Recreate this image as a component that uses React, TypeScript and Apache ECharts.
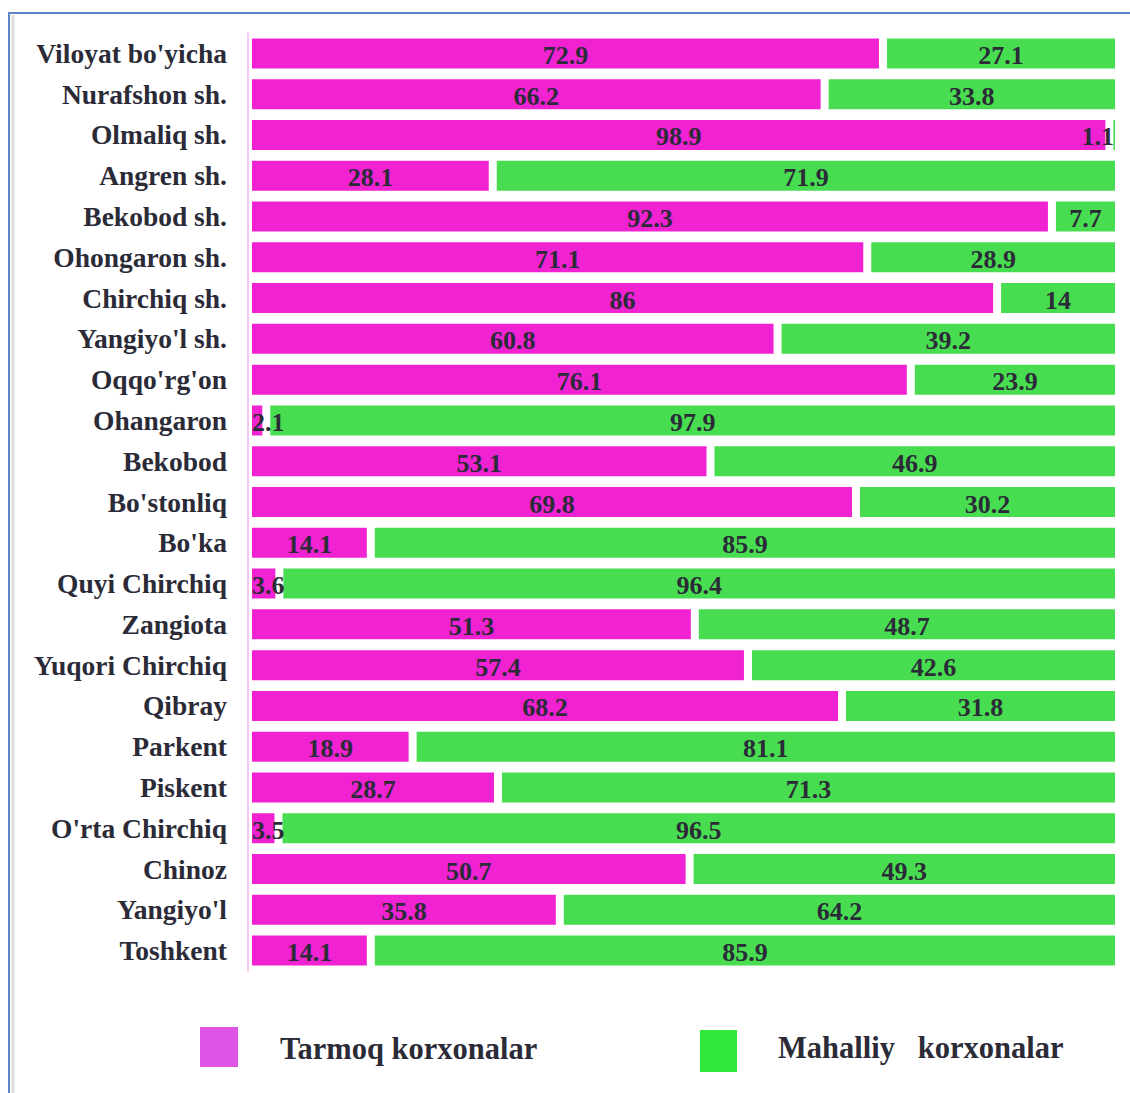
import React, { useEffect, useRef } from "react";
import * as echarts from "echarts";

const categories = [
  "Viloyat bo'yicha", "Nurafshon sh.", "Olmaliq sh.", "Angren sh.", "Bekobod sh.",
  "Ohongaron sh.", "Chirchiq sh.", "Yangiyo'l sh.", "Oqqo'rg'on", "Ohangaron",
  "Bekobod", "Bo'stonliq", "Bo'ka", "Quyi Chirchiq", "Zangiota", "Yuqori Chirchiq",
  "Qibray", "Parkent", "Piskent", "O'rta Chirchiq", "Chinoz", "Yangiyo'l", "Toshkent",
];
const tarmoq = [72.9, 66.2, 98.9, 28.1, 92.3, 71.1, 86, 60.8, 76.1, 2.1, 53.1, 69.8, 14.1, 3.6, 51.3, 57.4, 68.2, 18.9, 28.7, 3.5, 50.7, 35.8, 14.1];
const mahalliy = [27.1, 33.8, 1.1, 71.9, 7.7, 28.9, 14, 39.2, 23.9, 97.9, 46.9, 30.2, 85.9, 96.4, 48.7, 42.6, 31.8, 81.1, 71.3, 96.5, 49.3, 64.2, 85.9];
const seriesNames = ["Tarmoq korxonalar", "Mahalliy   korxonalar"];

const FONT = "'Liberation Serif', 'Times New Roman', serif";
const TEXT = "#2b2b38";

export default function App() {
  const ref = useRef<HTMLDivElement>(null);
  useEffect(() => {
    if (!ref.current) return;
    const chart = echarts.init(ref.current, null, { renderer: "svg" });
    const labelBase = {
      show: true,
      position: "inside",
      fontFamily: FONT,
      fontWeight: "bold",
      fontSize: 26,
      color: TEXT,
      offset: [0, 2],
    };
    const tData = tarmoq.map((v) =>
      v < 5 ? { value: v, label: { position: "insideLeft", distance: 0, offset: [4, 2] } } : v
    );
    const mData = mahalliy.map((v) =>
      v < 5 ? { value: v, label: { position: "insideRight", distance: 2, offset: [-3, 2] } } : v
    );
    chart.setOption({
      animation: false,
      backgroundColor: "#fff",
      grid: { left: 248, right: 11, top: 33, bottom: 122, containLabel: false },
      xAxis: { type: "value", min: 0, max: 100, show: false },
      yAxis: {
        type: "category",
        data: categories,
        inverse: true,
        z: 5,
        axisLine: { show: true, lineStyle: { color: "#f6c6ee", width: 2 } },
        axisTick: { show: false },
        axisLabel: {
          margin: 21,
          fontFamily: FONT,
          fontWeight: "bold",
          fontSize: 27.5,
          color: TEXT,
        },
      },
      graphic: [
        { type: "line", shape: { x1: 8, y1: 13, x2: 1130, y2: 13 }, style: { stroke: "#5b85c8", lineWidth: 2 } },
        { type: "line", shape: { x1: 9, y1: 13, x2: 9, y2: 1093 }, style: { stroke: "#5b85c8", lineWidth: 2 } },
        { type: "line", shape: { x1: 13, y1: 15, x2: 13, y2: 1093 }, style: { stroke: "#dcdcdc", lineWidth: 3 } },
        { type: "rect", shape: { x: 200, y: 1027, width: 38, height: 40 }, style: { fill: "#de55e6" } },
        {
          type: "text", x: 280, y: 1049,
          style: { text: seriesNames[0], font: `bold 30.5px ${FONT}`, fill: TEXT, verticalAlign: "middle", align: "left" },
        },
        { type: "rect", shape: { x: 700, y: 1030, width: 37, height: 42 }, style: { fill: "#2fe83b" } },
        {
          type: "text", x: 778, y: 1048,
          style: { text: seriesNames[1], font: `bold 30.5px ${FONT}`, fill: TEXT, verticalAlign: "middle", align: "left" },
        },
      ],
      series: [
        {
          name: seriesNames[0],
          type: "bar",
          stack: "total",
          barWidth: 38,
          data: tData,
          itemStyle: { color: "#f022d2", borderColor: "#ffffff", borderWidth: 4 },
          label: labelBase,
        },
        {
          name: seriesNames[1],
          type: "bar",
          stack: "total",
          barWidth: 38,
          data: mData,
          itemStyle: { color: "#48dd50", borderColor: "#ffffff", borderWidth: 4 },
          label: labelBase,
        },
      ],
    });
    return () => chart.dispose();
  }, []);
  return (
    <div
      ref={ref}
      style={{ position: "absolute", left: 0, top: 0, width: 1130, height: 1093 }}
    />
  );
}
